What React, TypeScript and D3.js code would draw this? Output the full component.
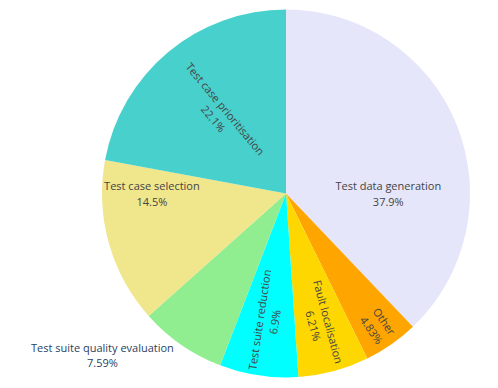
import React, { useEffect, useRef } from "react";
import * as d3 from "d3";

const W = 498;
const H = 388;
const margin = { top: 9, right: 28, bottom: 10, left: 102 };

const labels = [
  "Test data generation",
  "Other",
  "Fault localisation",
  "Test suite reduction",
  "Test suite quality evaluation",
  "Test case selection",
  "Test case prioritisation",
];
const values = [37.9, 4.83, 6.21, 6.9, 7.59, 14.5, 22.1];
const colors = ["lavender", "orange", "gold", "cyan", "lightgreen", "khaki", "mediumturquoise"];

const FONT = '"Open Sans", verdana, arial, sans-serif';
const TEXTPAD = 3;

const fmtPct = d3.format(".3~r");

// radial text fitting, same idea as plotly's pie inside text
function radialFit(bb, r, half, angle) {
  const r2 = Math.max(0, r - 2 * TEXTPAD);
  const a = bb.width / bb.height;
  const q = a + 1 / (2 * Math.tan(half));
  const s = r2 * Math.min(1 / (Math.sqrt(q * q + 0.5) + q), 1 / (Math.sqrt(a * a + 0.5) + a));
  let rot = (angle * 180) / Math.PI - 90;
  rot = ((rot % 180) + 180) % 180;
  if (rot > 90) rot -= 180;
  return { scale: (2 * s) / bb.height, rCenter: Math.cos(s / r2) - (a * s) / r2, rotate: rot, angle };
}

export default function App() {
  const ref = useRef<SVGSVGElement>(null);

  useEffect(() => {
    const svg = d3.select(ref.current);
    svg.selectAll("*").remove();

    const pw = W - margin.left - margin.right;
    const ph = H - margin.top - margin.bottom;
    const r = Math.min(pw, ph) / 2;
    const cx = margin.left + pw / 2;
    const cy = margin.top + ph / 2;
    const total = d3.sum(values);

    const pie = d3.pie<number>().sort(null).value((d) => d)(values);
    const arc = d3.arc<any>().innerRadius(0).outerRadius(r);

    const g = svg.append("g").attr("transform", `translate(${cx},${cy})`);
    g.selectAll("path")
      .data(pie)
      .join("path")
      .attr("d", arc)
      .attr("fill", (d, i) => colors[i]);

    const tg = svg.append("g").attr("font-family", FONT).attr("font-size", 11);

    pie.forEach((p, i) => {
      const t = tg.append("text").attr("text-anchor", "middle").attr("fill", "#444");
      t.append("tspan").attr("x", 0).text(labels[i]);
      t.append("tspan").attr("x", 0).attr("dy", "1.4em").text(fmtPct((values[i] / total) * 100) + "%");
      const bb = (t.node() as SVGTextElement).getBBox();
      const midX = bb.x + bb.width / 2;
      const midY = bb.y + bb.height / 2;

      const start = p.startAngle;
      const end = p.endAngle;
      const cands = [];
      [Math.PI / 2, (3 * Math.PI) / 2].forEach((ang) => {
        if (ang > start && ang < end) {
          const half = Math.min(ang - start, end - ang);
          cands.push(radialFit(bb, r, half, ang));
        }
      });
      cands.push(radialFit(bb, r, (end - start) / 2, (start + end) / 2));

      const pick = cands.find((c) => c.scale >= 0.93);
      let tx, ty, rot = 0;
      if (pick) {
        tx = cx + r * pick.rCenter * Math.sin(pick.angle);
        ty = cy - r * pick.rCenter * Math.cos(pick.angle);
        rot = pick.rotate;
      } else {
        // outside label
        const m = (start + end) / 2;
        const px = r * Math.sin(m);
        const py = -r * Math.cos(m);
        let dx = bb.width / 2;
        let dy = bb.height / 2;
        if (px < 0) dx *= -1;
        if (py < 0) dy *= -1;
        tx = cx + px + dx + (Math.abs(dy) * (dx > 0 ? 1 : -1)) / 2;
        ty = cy + py + dy / (1 + (px * px) / (py * py));
        t.attr("fill", "#2a3f5f");
      }
      t.attr("transform", `translate(${tx},${ty}) rotate(${rot}) translate(${-midX},${-midY})`);
    });
  }, []);

  return (
    <svg
      ref={ref}
      width={W}
      height={H}
      style={{ position: "absolute", left: 0, top: 0, display: "block", background: "#fff" }}
    />
  );
}
